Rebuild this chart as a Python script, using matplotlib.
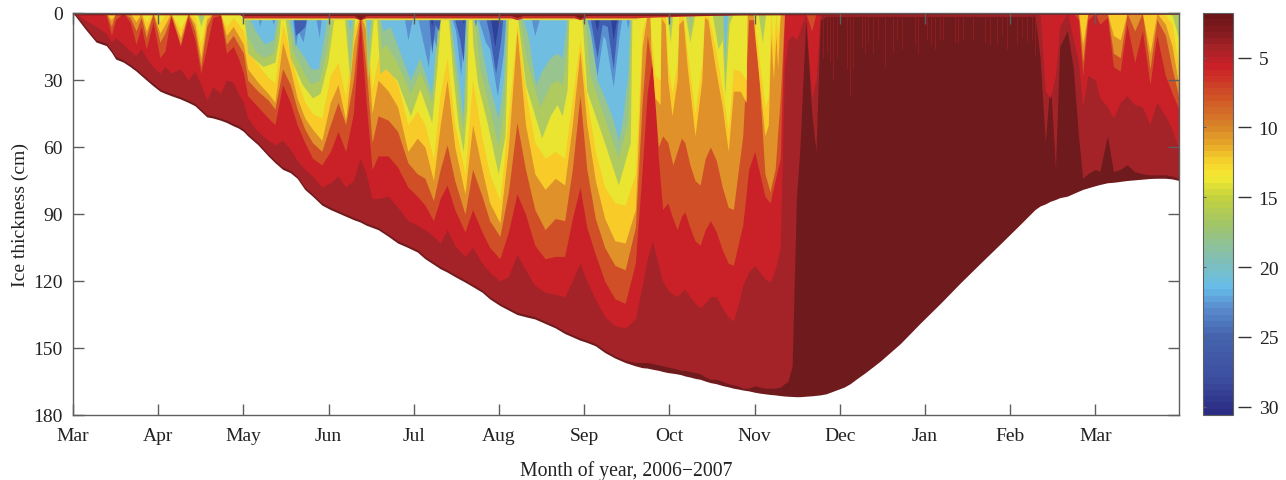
import matplotlib
matplotlib.use('Agg')
import matplotlib.pyplot as plt
from matplotlib.cm import ScalarMappable
from matplotlib.colors import LinearSegmentedColormap, Normalize

plt.rcParams['font.family'] = ['Liberation Serif', 'DejaVu Serif']

month_labels = ['Mar', 'Apr', 'May', 'Jun', 'Jul', 'Aug', 'Sep', 'Oct', 'Nov', 'Dec', 'Jan', 'Feb', 'Mar']
depth_ticks = [0, 30, 60, 90, 120, 150, 180]
bar_ticks = [5, 10, 15, 20, 25, 30]

# time of each profile, in months since 1 March 2006
months = [
    0, .06, .14, .27, .39, .45, .50, .59, .67, .74, .80, .86, .94, 1.02, 1.08, 1.15, 1.26, 1.35, 1.43, 1.50, 1.57, 1.64, 1.73, 1.80, 1.88, 1.94,
    2.00, 2.05, 2.17, 2.29, 2.37, 2.46, 2.55, 2.63, 2.72, 2.81, 2.92, 3.02, 3.11, 3.20, 3.29, 3.37, 3.44, 3.51, 3.58, 3.70, 3.81, 3.93, 4.04, 4.13,
    4.23, 4.31, 4.39, 4.48, 4.60, 4.69, 4.80, 4.89, 5.01, 5.11, 5.21, 5.31, 5.42, 5.54, 5.66, 5.77, 5.86, 5.95, 6.03, 6.13, 6.24, 6.36, 6.48, 6.60, 6.68, 6.74,
    6.80, 6.87, 6.92, 6.98, 7.04, 7.09, 7.14, 7.18, 7.24, 7.30, 7.36, 7.42, 7.48, 7.55, 7.62, 7.69, 7.75, 7.81, 7.86, 7.93, 8.00, 8.06, 8.12, 8.18, 8.24, 8.30, 8.35, 8.39, 8.44, 8.49, 8.53,
    8.60, 8.67, 8.72, 8.77, 8.84, 8.91, 8.98, 9.05, 9.12, 9.19, 9.30, 9.47, 9.71, 9.94, 10.18, 10.41, 10.65, 10.88, 11.12, 11.29,
    11.35, 11.41, 11.47, 11.53, 11.58, 11.67, 11.74, 11.80, 11.85, 11.91, 12.00, 12.05, 12.14, 12.21, 12.29, 12.37, 12.46, 12.55, 12.64, 12.72, 12.82, 12.90, 12.98,
]

# ice thickness (cm)
thickness = [
    0, 3, 7, 13, 14.6, 17.5, 20.6, 22, 24, 26, 28, 30, 32.6, 35, 36, 37, 38.5, 40, 41.5, 44, 46.5, 47, 48, 49, 50.5, 51.5,
    53, 55, 59, 64, 67, 70, 71.5, 74, 79, 82, 86, 88, 89.5, 91, 92.5, 93.6, 95, 96, 97, 100, 103, 105, 107, 110,
    112.5, 114.5, 116, 118, 120.5, 122.5, 125, 128, 131, 133, 135, 136, 137, 139, 141, 143.5, 145, 146.5, 147.5, 149, 152, 154.5, 156.5, 158, 158.8, 159,
    159.5, 160, 160.5, 161, 161.3, 161.6, 162, 162.5, 163, 163.6, 164, 164.8, 165.5, 166, 166.8, 167.4, 168, 168.4, 168.8, 169.2, 169.8, 170.2, 170.5, 170.8, 171, 171.3, 171.5, 171.6, 171.7, 171.8, 171.8,
    171.6, 171.4, 171.2, 171, 170.5, 169.5, 168.5, 167.5, 166, 164, 161, 156, 148, 139, 130, 121, 112, 103.5, 94.5, 88,
    86.4, 85.5, 84.3, 83.5, 82.7, 82, 80.8, 79.8, 79, 78.3, 77.3, 76.8, 76, 75.8, 75.4, 75, 74.7, 74.4, 74.1, 74, 74, 74.3, 75,
]

# depth reached by each contour band from the surface (cm)
above_3 = [
    0, 2, 6, 12, 13.5, 16.5, 19.5, 21, 23, 25, 27, 29, 31.5, 34, 35, 36, 37.5, 39, 40.5, 43, 45.5, 46, 47, 48, 49.5, 50.5,
    52, 54, 58, 63, 66, 69, 70.5, 73, 78, 81, 85, 87, 88.5, 90, 91.5, 92.6, 94, 95, 96, 99, 102, 104, 106, 109,
    111.5, 113.5, 115, 117, 119.5, 121.5, 124, 127, 130, 132, 134, 135, 136, 138, 140, 142.5, 144, 145.5, 146.5, 148, 151, 153.5, 155.5, 156.5, 156.5, 156.5,
    157, 157.5, 158, 158.5, 159, 159.5, 160, 160, 160.5, 161, 161.5, 163, 164, 164, 165, 166, 166.5, 167, 168, 168, 167, 167.5, 168, 168, 168, 167.5, 166, 165, 158, 83, 61,
    3, 45, 62, 3, 1.5, 1.5, 1.5, 1.5, 1.5, 1.5, 1.5, 1.5, 1.5, 1.5, 1.5, 1.5, 1.5, 1.5, 1.5, 1.5,
    20, 58, 30, 70, 15, 8, 25, 55, 74, 72, 70, 71, 55, 71, 70, 68, 71, 72, 72.5, 72.5, 72.5, 73, 74,
]
above_5 = [
    0, 1, 3, 6, 9, 13, 11, 14, 17, 19, 16, 20, 24, 27, 24, 27, 25, 30, 26, 32, 39, 33, 36, 30, 31, 36,
    40, 47, 53, 57, 59, 57, 61, 66, 70, 73, 78, 76, 73, 78, 75, 65, 72, 83, 83, 82, 87, 93, 95, 97,
    100, 103, 97, 104, 109, 105, 112, 116, 120, 118, 108, 115, 122, 125, 126, 127, 120, 112, 120, 128, 136, 140, 141, 137, 122, 110,
    102, 113, 120, 124, 126, 127, 125, 123.6, 127, 130, 132, 130, 127, 127, 132, 136, 138, 130, 122, 116, 113, 116, 119, 120.6, 115, 105, 25, 12, 10, 12, 8,
    0, 38, 30, 0, 0, 0, 0, 0, 0, 0, 0, 0, 0, 0, 0, 0, 0, 0, 0, 0,
    0, 35, 38, 28, 6, 0, 12, 22, 42, 28, 30, 38, 42, 47, 40, 37, 41, 42, 50, 40, 46, 52, 61,
]
above_7 = [
    0, 0, 0, 0, 1, 10, 3, 0, 4, 14, 6, 16, 4, 20, 17, 1, 15, 2, 12, 27, 15, 2, 1, 18, 15, 20,
    27, 37, 42, 47, 50, 32, 40, 50, 58, 65, 68, 62, 53, 62, 45, 3, 40, 70, 64, 64, 69, 78, 82, 86,
    93, 83, 77, 88, 98, 88, 98, 105, 110, 98, 81, 90, 104, 110, 109, 109, 92, 78, 96, 108, 120, 128, 130, 112, 70, 35,
    20, 65, 88, 85, 92, 97, 91, 89, 96, 102, 104, 97, 93, 98, 106, 112, 113, 103, 95, 70, 62, 72, 82, 85, 75, 65, 0, 0, 0, 0, 0,
    0, 8, 0, 0, 0, 0, 0, 0, 0, 0, 0, 0, 0, 0, 0, 0, 0, 0, 0, 0,
    0, 0, 0, 0, 0, 0, 0, 3, 28, 3, 0, 5, 2, 24, 26, 5, 22, 8, 32, 10, 28, 36, 43,
]
above_10 = [
    0, 0, 0, 0, 0, 6, 0, 0, 2, 8, 2, 11, 0, 13, 9, 1, 14, 0, 8, 24, 6, 0, 0, 14, 10, 14,
    18, 30, 35, 39, 43, 25, 32, 43, 52, 58, 62, 50, 40, 50, 30, 0, 25, 58, 46, 48, 53, 67, 72, 74,
    84, 70, 59, 75, 90, 70, 82, 93, 100, 80, 49, 70, 88, 97, 92, 93, 70, 37, 70, 92, 105, 113, 115, 96, 40, 10,
    25, 60, 55, 58, 68, 62, 56, 58, 68, 75, 77, 65, 60, 66, 78, 87, 88, 70, 55, 3, 3, 35, 72, 80, 70, 38, 0, 0, 0, 0, 0,
    0, 0, 0, 0, 0, 0, 0, 0, 0, 0, 0, 0, 0, 0, 0, 0, 0, 0, 0, 0,
    0, 0, 0, 0, 0, 0, 0, 0, 22, 0, 0, 0, 0, 18, 20, 0, 8, 0, 25, 3, 10, 25, 38,
]
# the next two bands, March to September
above_12 = [
    0, 0, 0, 0, 0, 3, 0, 0, 0, 4, 0, 8, 0, 9, 5, 0, 11, 0, 5, 20, 3, 0, 0, 10, 6, 10,
    14, 25, 31, 36, 40, 13, 25, 38, 47, 52, 57, 40, 32, 48, 15, 0, 8, 45, 30, 35, 42, 62, 56, 60,
    75, 50, 30, 60, 81, 50, 70, 85, 94, 60, 8, 50, 72, 79, 74, 77, 50, 17, 50, 75, 92, 102, 103, 88, 15, 0,
]
above_13 = [
    0, 0, 0, 0, 0, 0, 0, 0, 0, 0, 0, 4, 0, 4, 1, 0, 7, 0, 2, 14, 0, 0, 0, 6, 2, 5,
    8, 17, 23, 29, 31, 5, 18, 30, 40, 45, 47, 28, 22, 38, 8, 0, 3, 34, 20, 24, 32, 50, 44, 50,
    65, 36, 20, 50, 72, 30, 56, 72, 84, 46, 5, 35, 58, 65, 62, 65, 38, 12, 38, 62, 78, 85, 86, 72, 8, 0,
]
# October and November columns
fall_months = [6.77, 6.78, 6.83, 6.89, 6.90, 6.95, 6.98, 7.03, 7.09, 7.11, 7.16, 7.21, 7.30, 7.38, 7.41, 7.45,
               7.54, 7.62, 7.69, 7.75, 7.83, 7.90, 7.91, 7.98, 8.00, 8.12, 8.16, 8.19, 8.22, 8.25, 8.27, 8.30]
fall_12 = [0, 15, 38, 41, 2, 5, 30, 46, 30, 5, 3, 25, 55, 30, 2, 3, 25, 42, 62, 35, 35, 40, 0, 0, 10, 55, 50, 10, 30, 10, 25, 0]
fall_13 = [0, 8, 28, 30, 0, 0, 22, 36, 22, 0, 0, 18, 45, 22, 0, 0, 16, 34, 52, 25, 26, 30, 0, 0, 4, 42, 38, 0, 16, 0, 10, 0]
# last days of March 2007
end_months = [12.05, 12.14, 12.21, 12.29, 12.37, 12.46, 12.55, 12.64, 12.72, 12.82, 12.90, 12.98]
end_12 = [0, 0, 10, 12, 0, 0, 0, 18, 0, 5, 15, 33]
end_13 = [0, 0, 0, 0, 0, 0, 0, 0, 0, 1, 5, 25]
end_15 = [0, 0, 0, 0, 0, 0, 0, 0, 0, 0, 1, 12]
early_end_months = [11.80, 11.85, 11.91]
early_end_12 = [0, 14, 0]

# the colder tongues, each with its own times
green_months = [
    1.46, 1.50, 1.55,
    2.00, 2.02, 2.05, 2.23, 2.37, 2.42, 2.44,
    2.48, 2.49, 2.55, 2.69, 2.81, 2.90, 2.99, 3.06, 3.07,
    3.18, 3.25, 3.31,
    3.42, 3.46, 3.52, 3.53,
    3.56, 3.60, 3.67, 3.80, 3.96, 4.07, 4.21, 4.27, 4.32,
    4.40, 4.46, 4.52, 4.58, 4.62, 4.64,
    4.68, 4.69, 4.75, 4.86, 4.99, 5.07, 5.11,
    5.21, 5.31, 5.50, 5.60, 5.68, 5.74, 5.80, 5.82,
    5.97, 6.03, 6.22, 6.40, 6.54, 6.56,
    6.97, 7.01, 7.04, 7.18, 7.24, 7.30, 7.50, 7.57, 7.62, 7.65, 7.70, 7.75, 8.04, 8.09, 8.13,
]
above_15 = [
    0, 6, 0,
    0, 7, 18, 24, 22, 10, 0,
    0, 3, 20, 32, 38, 36, 22, 3, 0,
    0, 30, 0,
    0, 30, 5, 0,
    0, 27, 25, 30, 46, 34, 49, 25, 0,
    0, 28, 50, 62, 43, 0,
    0, 13, 32, 49, 72, 55, 0,
    0, 32, 56, 46, 41, 46, 34, 0,
    0, 35, 56, 77, 58, 0,
    0, 13, 0, 0, 13, 0, 0, 16, 12, 37, 5, 0, 0, 13, 0,
]
sage_months = [
    1.48, 1.50, 1.52,
    2.01, 2.04, 2.14, 2.23, 2.35, 2.39, 2.42,
    2.51, 2.58, 2.70, 2.79, 2.89, 2.97, 3.02, 3.03,
    3.20, 3.25, 3.30,
    3.43, 3.46, 3.51,
    3.58, 3.62, 3.67, 3.80, 3.96, 4.07, 4.21, 4.27, 4.31,
    4.41, 4.47, 4.53, 4.58, 4.61, 4.62,
    4.71, 4.77, 4.87, 4.99, 5.06, 5.09,
    5.23, 5.33, 5.48, 5.60, 5.68, 5.74, 5.80, 5.81,
    6.00, 6.07, 6.22, 6.40, 6.51, 6.55,
    6.98, 7.01, 7.03, 7.22, 7.24, 7.27, 7.62, 7.65, 7.69,
]
above_18 = [
    0, 3, 0,
    0, 10, 17, 20, 18, 8, 0,
    0, 17, 26, 32, 30, 17, 4, 0,
    0, 22, 0,
    0, 22, 0,
    0, 16, 14, 22, 36, 26, 40, 15, 0,
    0, 22, 42, 52, 25, 0,
    0, 24, 40, 60, 40, 0,
    0, 22, 42, 32, 30, 32, 15, 0,
    0, 28, 45, 65, 48, 0,
    0, 6, 0, 0, 8, 0, 0, 27, 0,
]
sky_months = [
    2.04, 2.08, 2.14, 2.25, 2.35, 2.38, 2.39,
    2.52, 2.61, 2.72, 2.79, 2.88, 2.93, 2.98, 2.99,
    3.22, 3.25, 3.29,
    3.44, 3.46, 3.50,
    3.59, 3.64, 3.72, 3.80, 3.96, 4.07, 4.21, 4.26, 4.30,
    4.42, 4.48, 4.54, 4.58, 4.60, 4.61,
    4.73, 4.78, 4.87, 4.99, 5.05, 5.08,
    5.26, 5.34, 5.43, 5.50, 5.60, 5.68, 5.74, 5.79, 5.80,
    6.02, 6.09, 6.15, 6.24, 6.34, 6.40, 6.44, 6.51, 6.54,
    7.63, 7.65, 7.68,
]
above_21 = [
    0, 3, 8, 14, 12, 5, 0,
    0, 14, 20, 25, 25, 14, 3, 0,
    0, 8, 0,
    0, 13, 0,
    0, 8, 6, 14, 30, 20, 36, 10, 0,
    0, 18, 34, 46, 20, 0,
    0, 12, 30, 47, 30, 0,
    0, 10, 32, 26, 20, 18, 20, 5, 0,
    0, 14, 30, 38, 48, 57, 50, 28, 0,
    0, 20, 0,
]
blue_months = [
    2.14, 2.17, 2.19, 2.23, 2.31, 2.35, 2.39, 2.54, 2.58, 2.61, 2.64, 2.70, 2.75, 2.78, 2.84, 2.89, 2.92,
    3.88, 3.93, 3.98, 4.05, 4.17, 4.21, 4.26, 4.29, 4.43, 4.49, 4.55, 4.60, 4.61,
    4.69, 4.72, 4.75, 4.84, 4.89, 4.98, 5.05, 5.08, 5.33, 5.38, 5.42, 5.47, 5.50,
    6.01, 6.07, 6.15, 6.22, 6.25, 6.34, 6.41, 6.45, 6.48, 6.51, 6.54,
]
above_23 = [
    0, 1, 6, 0, 0, 5, 0, 0, 3, 15, 8, 13, 2, 0, 0, 11, 0,
    0, 12, 3, 3, 24, 8, 15, 0, 0, 8, 28, 3, 0,
    0, 6, 2, 13, 16, 37, 18, 0, 0, 3, 10, 3, 0,
    0, 8, 28, 10, 12, 33, 10, 0, 0, 7, 0,
]
deep_months = [2.58, 2.61, 2.67, 2.72, 2.75, 4.17, 4.21, 4.25, 4.29, 4.32, 4.46, 4.54, 4.58, 4.61, 4.83, 4.89, 4.96, 5.02, 5.05, 6.06, 6.15, 6.21, 6.27, 6.34, 6.39, 6.42]
above_25 = [0, 10, 8, 6, 0, 0, 18, 5, 8, 0, 0, 12, 22, 0, 0, 10, 27, 12, 0, 0, 20, 5, 6, 25, 5, 0]
navy_months = [4.18, 4.21, 4.24, 4.56, 4.58, 4.60, 4.89, 4.95, 5.01, 6.10, 6.15, 6.19, 6.30, 6.34, 6.39]
above_28 = [0, 6, 0, 0, 5, 0, 0, 15, 0, 0, 8, 0, 0, 12, 0]

# short warm streaks below the surface in winter
streak_months = [8.80, 8.85, 8.88, 8.92, 8.97, 9.08, 9.12, 9.15, 9.26, 9.30, 9.33, 9.39, 9.45, 9.53, 9.62, 9.67, 9.73, 9.88, 9.92,
                 10.02, 10.07, 10.12, 10.18, 10.21, 10.35, 10.39, 10.45, 10.56, 10.70, 10.76, 10.84, 10.90, 10.96, 11.08, 11.14, 11.20, 11.26, 11.29]
streak_depth = [20, 18, 22, 30, 20, 25, 37, 25, 15, 18, 13, 18, 12, 24, 18, 12, 16, 14, 18,
                12, 14, 16, 12, 12, 13, 13, 12, 12, 13, 14, 14, 10, 16, 14, 11, 13, 12, 19]

# thin surface layer
skin_months = [0, 1.95, 2.00, 3.30, 3.37, 3.44, 5.14, 5.21, 5.28, 5.88, 5.95, 6.02, 6.60, 6.68, 8.40, 12.98]
rim_yellow = [0, 0, 3, 3, 0, 3, 3, 0, 3, 3, 0, 3, 3, 0, 0, 0]
rim_red = [0, 0, 2.2, 2.2, 3, 2.2, 2.2, 3, 2.2, 2.2, 3, 2.2, 2.2, 2, 0, 0]
rim_dark = [.8, .8, 1.1, 1.1, 3, 1.1, 1.1, 2, 1.1, 1.1, 2.5, 1.1, 1.1, 1.1, .8, .6]

band_colors = ['#a32328', '#ca2128', '#d14f27', '#e0912a', '#f8cb28', '#e9e530', '#afcb60',
               '#97c48f', '#6fbde0', '#5a8fd0', '#3f5eb2', '#2f4098']
bar_values = [1.8, 3.2, 4.2, 5.5, 7.5, 9.5, 11, 12.5, 13.5, 15, 17, 19, 21.5, 23, 25, 28, 30.6]
bar_colors = ['#6c1418', '#8a1c20', '#a82328', '#cb2027', '#d04f27', '#d67c28', '#e5a328', '#f7d52c', '#f3ea33',
              '#c3d13c', '#a0c569', '#88c0a8', '#66bde9', '#5a8dcf', '#4565ae', '#3d4fa0', '#2b2d84']

fig = plt.figure(figsize=(12.86, 4.81), dpi=100)
ax = fig.add_axes([73 / 1286, 65 / 481, 1106 / 1286, 402 / 481])
grey = '#5e5e5e'
text_col = '#222222'


def band(x, depth, col):
    ax.fill_between(x, 0, depth, color=col, lw=0)


band(months, thickness, '#6f1a1c')
band(months, above_3, band_colors[0])
ax.vlines(streak_months, 0, streak_depth, color='#8a1e22', lw=0.8)
band(months, above_5, band_colors[1])
band(months, above_7, band_colors[2])
band(months, above_10, band_colors[3])
band(months[:len(above_12)], above_12, band_colors[4])
band(months[:len(above_13)], above_13, band_colors[5])
band(fall_months, fall_12, band_colors[4])
band(fall_months, fall_13, band_colors[5])
band(early_end_months, early_end_12, band_colors[4])
band(end_months, end_12, band_colors[4])
band(end_months, end_13, band_colors[5])
band(end_months, end_15, band_colors[6])
band(green_months, above_15, band_colors[6])
band(sage_months, above_18, band_colors[7])
band(sky_months, above_21, band_colors[8])
band(blue_months, above_23, band_colors[9])
band(deep_months, above_25, band_colors[10])
band(navy_months, above_28, band_colors[11])
band(skin_months, rim_yellow, '#e6d93a')
band(skin_months, rim_red, '#c9302a')
band(skin_months, rim_dark, '#7c1a1c')

ax.set_xlim(0, 12.98)
ax.set_ylim(180, 0)
ax.set_xticks(range(len(month_labels)))
ax.set_xticklabels(month_labels)
ax.set_yticks(depth_ticks)
ax.tick_params(direction='in', top=True, right=True, length=8, width=1, color=grey, labelsize=14,
               labelcolor=text_col)
ax.tick_params(axis='x', pad=9)
ax.tick_params(axis='y', pad=7.5)
for s in ax.spines.values():
    s.set_color(grey)
    s.set_linewidth(1)
ax.set_xlabel('Month of year, 2006\u22122007', fontsize=14.2, color=text_col, labelpad=11)
ax.set_ylabel('Ice thickness (cm)', fontsize=14, color=text_col, labelpad=3)

# colour bar with short inner ticks and detached dashes beside the labels
cax = fig.add_axes([1203 / 1286, 65 / 481, 30 / 1286, 402 / 481])
lo, hi = bar_values[0], bar_values[-1]
stops = [(v - lo) / (hi - lo) for v in bar_values]
cmap = LinearSegmentedColormap.from_list('ice', list(zip(stops, bar_colors)), N=64)
norm = Normalize(lo, hi)
cb = fig.colorbar(ScalarMappable(norm=norm, cmap=cmap), cax=cax)
cb.outline.set_edgecolor(grey)
cb.set_ticks(bar_ticks)
cb.ax.invert_yaxis()
cax.tick_params(direction='in', left=True, right=True, length=2.5, width=.8, color=grey, labelright=False)
cax2 = cax.twinx()
cax2.set_ylim(cax.get_ylim())
cax2.set_yticks(bar_ticks)
for s in cax2.spines.values():
    s.set_visible(False)
cax2.spines['right'].set_position(('outward', 3.5))
cax2.tick_params(direction='out', length=9, width=1, color='#333333', labelsize=14, labelcolor=text_col, pad=6)

fig.savefig('out.png', dpi=100)
